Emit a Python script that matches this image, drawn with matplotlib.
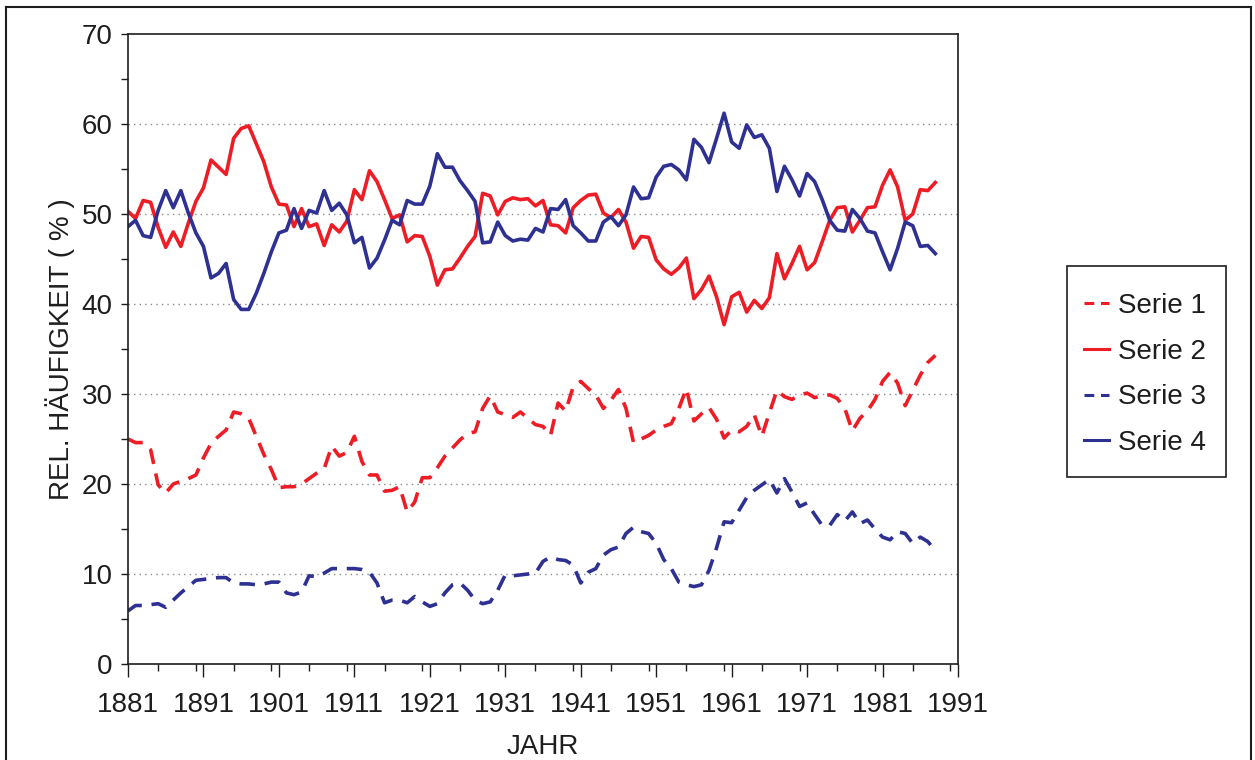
import matplotlib
matplotlib.use("Agg")
import matplotlib.pyplot as plt
from matplotlib.lines import Line2D
from matplotlib.patches import Rectangle
from matplotlib.ticker import MultipleLocator, FixedLocator

years = list(range(1881, 1989))

serie1 = [25.0, 24.6, 24.6, 23.8, 19.9, 19.0, 20.0, 20.3, 20.6, 21.0,
          22.9, 24.5, 25.3, 26.0, 28.0, 27.8, 27.3, 25.3, 23.3, 21.6,
          19.6, 19.7, 19.7, 20.0, 20.6, 21.2, 21.7, 24.2, 23.1, 23.5,
          25.3, 22.5, 21.0, 21.0, 19.2, 19.3, 19.7, 16.9, 18.0, 20.7,
          20.7, 21.8, 23.1, 24.0, 24.9, 25.6, 25.8, 28.4, 29.8, 28.0,
          27.7, 27.4, 28.0, 27.3, 26.6, 26.4, 25.4, 29.0, 28.1, 30.8,
          31.4, 30.6, 29.9, 28.4, 29.3, 30.5, 28.4, 24.6, 25.0, 25.4,
          26.0, 26.4, 26.7, 28.4, 30.6, 27.0, 27.8, 28.5, 27.2, 25.1,
          26.0, 25.8, 26.4, 27.7, 25.3, 27.9, 30.4, 29.7, 29.4, 29.9,
          30.1, 29.6, 29.8, 29.9, 29.5, 28.4, 25.9, 27.3, 28.1, 29.4,
          31.4, 32.4, 31.2, 28.7, 30.4, 32.1, 33.5, 34.3]

serie2 = [50.3, 49.5, 51.5, 51.3, 48.5, 46.3, 48.0, 46.4, 49.0, 51.4,
          52.9, 56.0, 55.2, 54.4, 58.4, 59.5, 59.8, 57.8, 55.8, 53.0,
          51.1, 51.0, 48.6, 50.6, 48.6, 48.9, 46.5, 48.8, 48.0, 49.2,
          52.7, 51.6, 54.8, 53.6, 51.6, 49.5, 49.9, 46.9, 47.6, 47.5,
          45.3, 42.1, 43.8, 43.9, 45.1, 46.4, 47.5, 52.3, 52.0, 49.9,
          51.4, 51.8, 51.6, 51.7, 50.9, 51.5, 48.8, 48.7, 47.9, 50.7,
          51.5, 52.1, 52.2, 50.1, 49.6, 50.5, 49.1, 46.2, 47.5, 47.4,
          44.9, 43.9, 43.3, 44.0, 45.1, 40.6, 41.6, 43.1, 40.8, 37.7,
          40.8, 41.3, 39.1, 40.4, 39.5, 40.7, 45.6, 42.8, 44.5, 46.4,
          43.8, 44.6, 46.9, 49.3, 50.7, 50.8, 48.0, 49.3, 50.7, 50.8,
          53.2, 54.9, 53.0, 49.3, 50.0, 52.7, 52.6, 53.5]

serie3 = [5.9, 6.5, 6.5, 6.6, 6.7, 6.3, 7.1, 7.9, 8.6, 9.3,
          9.4, 9.5, 9.6, 9.6, 9.0, 8.9, 8.9, 8.8, 8.9, 9.1,
          9.1, 7.9, 7.7, 8.0, 9.8, 9.7, 10.1, 10.6, 10.6, 10.6,
          10.6, 10.5, 10.2, 9.0, 6.8, 7.1, 7.1, 6.8, 7.5, 6.9,
          6.4, 6.7, 7.9, 8.8, 9.0, 8.2, 7.1, 6.7, 6.9, 8.2,
          9.9, 9.8, 9.9, 10.0, 10.1, 11.4, 11.9, 11.6, 11.5, 11.0,
          9.0, 10.2, 10.6, 12.1, 12.7, 13.0, 14.5, 15.2, 14.7, 14.5,
          13.4, 11.6, 10.6, 9.1, 8.8, 8.6, 8.8, 10.4, 12.9, 15.8,
          15.7, 17.1, 18.5, 19.3, 19.9, 20.5, 19.0, 20.6, 19.1, 17.5,
          17.9, 16.6, 15.4, 15.4, 16.6, 15.9, 16.9, 15.6, 16.0, 15.0,
          14.1, 13.8, 14.7, 14.5, 13.4, 14.1, 13.6, 12.6]

serie4 = [48.6, 49.3, 47.6, 47.4, 50.4, 52.6, 50.7, 52.6, 50.1, 47.9,
          46.4, 42.9, 43.4, 44.5, 40.5, 39.4, 39.4, 41.2, 43.4, 45.8,
          47.9, 48.2, 50.6, 48.4, 50.4, 50.1, 52.6, 50.4, 51.2, 49.9,
          46.8, 47.4, 44.0, 45.1, 47.1, 49.3, 48.8, 51.5, 51.1, 51.1,
          53.1, 56.7, 55.2, 55.2, 53.7, 52.6, 51.4, 46.8, 46.9, 49.1,
          47.6, 47.0, 47.2, 47.1, 48.4, 48.0, 50.6, 50.5, 51.6, 48.7,
          47.9, 47.0, 47.0, 49.1, 49.7, 48.7, 49.9, 53.0, 51.7, 51.8,
          54.1, 55.3, 55.5, 54.9, 53.8, 58.3, 57.4, 55.7, 58.4, 61.2,
          58.0, 57.3, 59.9, 58.5, 58.8, 57.3, 52.5, 55.3, 53.8, 52.0,
          54.5, 53.6, 51.6, 49.3, 48.2, 48.1, 50.5, 49.5, 48.1, 47.9,
          45.8, 43.8, 46.2, 49.1, 48.7, 46.4, 46.5, 45.6]

series_names = ["Serie 1", "Serie 2", "Serie 3", "Serie 4"]
x_ticks = list(range(1881, 1992, 10))
y_ticks = list(range(0, 71, 10))

RED = "#ee1c25"
BLUE = "#2e3192"
INK = "#1e1e1e"
FS = 20

plt.rcParams['font.family'] = ['Liberation Sans', 'DejaVu Sans']

W, H = 1255, 760
fig = plt.figure(figsize=(W/100, H/100), dpi=100)
ax = fig.add_axes([128/W, 1-664/H, (958-128)/W, (664-34)/H])

lw = 2.6
dash = (4.3, 2.7)
ax.plot(years, serie1, color=RED, lw=lw, dashes=dash)
ax.plot(years, serie2, color=RED, lw=lw)
ax.plot(years, serie3, color=BLUE, lw=lw, dashes=dash)
ax.plot(years, serie4, color=BLUE, lw=lw)

ax.set_xlim(1881, 1991)
ax.set_ylim(0, 70)
ax.xaxis.set_major_locator(FixedLocator(x_ticks))
ax.xaxis.set_minor_locator(MultipleLocator(5))
ax.yaxis.set_major_locator(FixedLocator(y_ticks))
ax.yaxis.set_minor_locator(MultipleLocator(5))
ax.tick_params(axis='both', which='both', direction='out', labelsize=FS, color=INK, labelcolor=INK)
ax.tick_params(axis='x', which='major', length=9, width=1, pad=11)
ax.tick_params(axis='x', which='minor', length=5, width=1)
ax.tick_params(axis='y', which='major', length=5, width=1, pad=6)
ax.tick_params(axis='y', which='minor', length=5, width=1)

for yv in range(10, 70, 10):
    ax.axhline(yv, color='#8a8a8a', lw=1.0, ls=(0, (1, 3)), zorder=0)

for s in ax.spines.values():
    s.set_linewidth(1.2)
    s.set_color(INK)

ax.set_xlabel("JAHR", fontsize=FS, labelpad=12, color=INK)
ax.set_ylabel("REL. HÄUFIGKEIT ( % )", fontsize=FS, labelpad=5, color=INK)

# legend: frame drawn separately to match the reference box
fig.add_artist(Rectangle((1067/W, 1-477/H), (1226-1067)/W, (477-266)/H,
                         transform=fig.transFigure, facecolor='none',
                         edgecolor=INK, lw=1.2, zorder=5))
hlw = 2.2
handles = [Line2D([], [], color=RED, lw=hlw, dashes=(3.2, 2.2)),
           Line2D([], [], color=RED, lw=hlw),
           Line2D([], [], color=BLUE, lw=hlw, dashes=(3.2, 2.2)),
           Line2D([], [], color=BLUE, lw=hlw)]
leg = fig.legend(handles=handles, labels=series_names, loc='upper left',
                 bbox_to_anchor=(1084/W, 1-293/H), bbox_transform=fig.transFigure,
                 fontsize=FS, frameon=False, handlelength=0.9,
                 handletextpad=0.32, borderpad=0.0, labelspacing=0.71, borderaxespad=0)
leg.set_zorder(6)
for t in leg.get_texts():
    t.set_color(INK)

# outer frame
fig.add_artist(Line2D([6/W, 6/W], [0, 1-7/H], transform=fig.transFigure, color=INK, lw=1.5))
fig.add_artist(Line2D([6/W, 1251/W], [1-7/H, 1-7/H], transform=fig.transFigure, color=INK, lw=1.5))
fig.add_artist(Line2D([1251/W, 1251/W], [0, 1-7/H], transform=fig.transFigure, color=INK, lw=1.5))

fig.savefig("out.png", dpi=100)
